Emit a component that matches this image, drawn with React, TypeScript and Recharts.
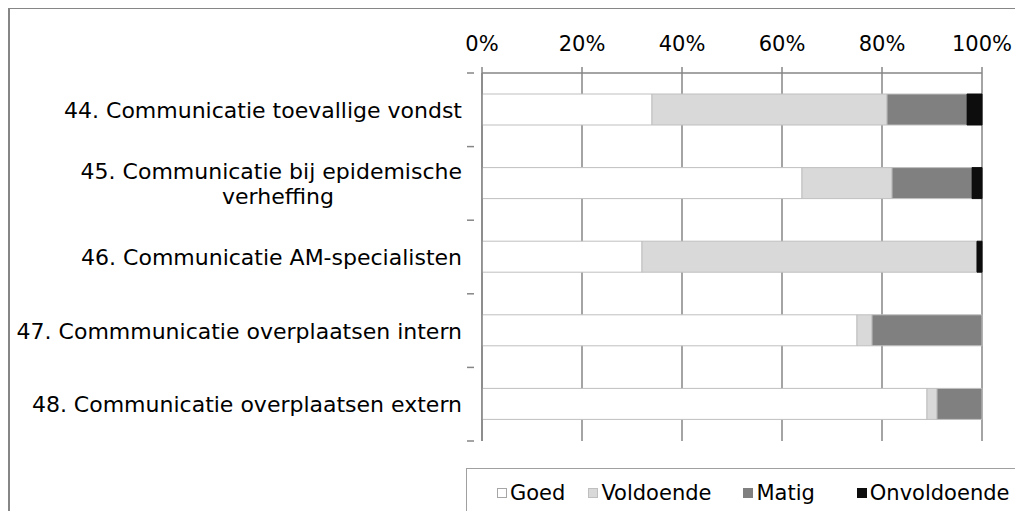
import React from "react";
import { BarChart, Bar, XAxis, YAxis, CartesianGrid, Legend } from "recharts";

const categories = [
  "44. Communicatie toevallige vondst",
  "45. Communicatie bij epidemische|verheffing",
  "46. Communicatie AM-specialisten",
  "47. Commmunicatie overplaatsen intern",
  "48. Communicatie overplaatsen extern",
];
const goed = [34, 64, 32, 75, 89];
const voldoende = [47, 18, 67, 3, 2];
const matig = [16, 16, 0, 22, 9];
const onvoldoende = [3, 2, 1, 0, 0];
const xTicks = [0, 20, 40, 60, 80, 100];

const seriesNames = ["Goed", "Voldoende", "Matig", "Onvoldoende"];
const seriesColors = ["#ffffff", "#d9d9d9", "#808080", "#0d0d0d"];
const legendGaps = [23, 32, 42, 0];

const data = categories.map((c, i) => ({
  name: c,
  Goed: goed[i],
  Voldoende: voldoende[i],
  Matig: matig[i],
  Onvoldoende: onvoldoende[i],
}));

const FONT = "'DejaVu Sans', Verdana, sans-serif";
const AXIS = "#868686";
const LABEL_SIZE = 22;

const YTick = (props: any) => {
  const { x, y, payload, index } = props;
  const half = payload && payload.offset ? payload.offset : 36.8;
  const lines = String(payload.value).split("|");
  const ax = x;
  return (
    <g>
      <line x1={ax - 7} x2={ax} y1={y - half} y2={y - half} stroke={AXIS} strokeWidth={1.5} />
      {index === categories.length - 1 && (
        <line x1={ax - 7} x2={ax} y1={y + half} y2={y + half} stroke={AXIS} strokeWidth={1.5} />
      )}
      {lines.length === 1 ? (
        <text x={ax - 12} y={y} dy="0.36em" textAnchor="end" fontFamily={FONT} fontSize={LABEL_SIZE} fill="#000">
          {lines[0]}
        </text>
      ) : (
        <g>
          <text x={ax - 12} y={y - 12.5} dy="0.36em" textAnchor="end" fontFamily={FONT} fontSize={LABEL_SIZE} fill="#000">
            {lines[0]}
          </text>
          <text x={ax - 196} y={y + 12.5} dy="0.36em" textAnchor="middle" fontFamily={FONT} fontSize={LABEL_SIZE} fill="#000">
            {lines[1]}
          </text>
        </g>
      )}
    </g>
  );
};

const LegendContent = () => (
  <div
    style={{
      border: "1px solid #a0a0a0",
      width: 600,
      height: 60,
      boxSizing: "border-box",
      display: "flex",
      alignItems: "flex-start",
      paddingTop: 12,
      paddingLeft: 30,
      fontFamily: FONT,
      fontSize: 21,
      color: "#000",
      background: "#fff",
    }}
  >
    {seriesNames.map((n, i) => (
      <div key={n} style={{ display: "flex", alignItems: "center", marginRight: legendGaps[i] }}>
        <span
          style={{
            display: "inline-block",
            width: 10,
            height: 10,
            boxSizing: "border-box",
            background: seriesColors[i],
            border: "1px solid " + (i === 0 ? "#a6a6a6" : i === 1 ? "#bfbfbf" : seriesColors[i]),
            marginRight: 3,
          }}
        />
        <span style={{ lineHeight: "24px" }}>{n}</span>
      </div>
    ))}
  </div>
);

export default function App() {
  return (
    <div
      style={{
        width: 1015,
        height: 503,
        boxSizing: "border-box",
        borderTop: "1.5px solid #868686",
        borderLeft: "2px solid #868686",
        overflow: "hidden",
        position: "relative",
        background: "#fff",
      }}
    >
      <style>{`html,body{overflow:hidden}`}</style>
      <div style={{ position: "absolute", left: -2, top: -1.5 }}>
        <BarChart
          width={1015}
          height={503}
          data={data}
          layout="vertical"
          margin={{ top: 0, right: 41, bottom: 70, left: 0 }}
          barSize={31}
        >
          <CartesianGrid horizontal={false} vertical={true} stroke={AXIS} strokeWidth={1.5} />
          <XAxis
            type="number"
            orientation="top"
            domain={[0, 100]}
            ticks={xTicks}
            tickFormatter={(v: number) => v + "%"}
            height={65}
            tickSize={6}
            tickMargin={16}
            axisLine={{ stroke: AXIS, strokeWidth: 1.5 }}
            tickLine={{ stroke: AXIS, strokeWidth: 1.5 }}
            tick={{ fontFamily: FONT, fontSize: 21, fill: "#000" }}
            interval={0}
          />
          <YAxis
            type="category"
            dataKey="name"
            width={474}
            axisLine={{ stroke: AXIS, strokeWidth: 1.5 }}
            tickLine={false}
            tick={<YTick />}
            interval={0}
          />
          <Legend
            layout="horizontal"
            verticalAlign="middle"
            align="center"
            content={<LegendContent />}
            wrapperStyle={{ position: "absolute", left: 458, top: 460, width: 600, height: 60 }}
          />
          {seriesNames.map((n, i) => (
            <Bar
              key={n}
              dataKey={n}
              stackId="a"
              fill={seriesColors[i]}
              stroke={i === 3 ? seriesColors[i] : "#bfbfbf"}
              strokeWidth={1}
              isAnimationActive={false}
            />
          ))}
        </BarChart>
      </div>
    </div>
  );
}
